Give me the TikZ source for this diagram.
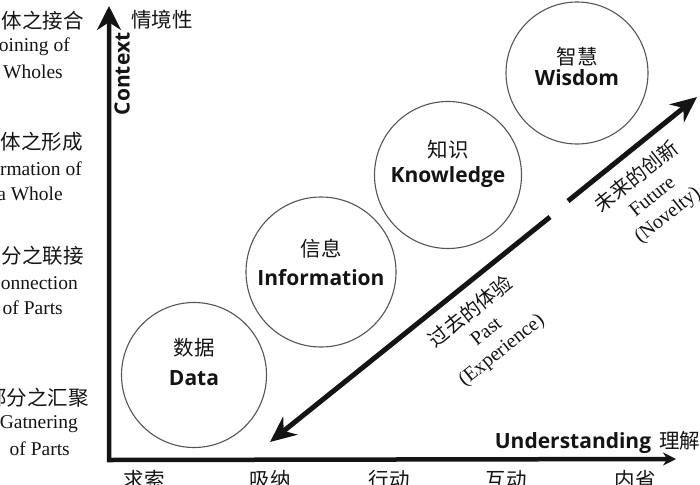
\documentclass[tikz,border=0pt]{standalone}
\usepackage{fontspec}
\setmainfont{Liberation Serif}
\newfontfamily\cjk{Noto Sans CJK SC}
\newfontfamily\headsans{Open Sans}
\usetikzlibrary{arrows.meta}
\definecolor{ColCircle}{RGB}{85,85,85}
\definecolor{ColInk}{RGB}{20,20,20}
\newcommand{\cjkfont}{\cjk\fontsize{20.5}{27}\selectfont}
\tikzstyle{LevelCircle}=[circle,draw=ColCircle,line width=1.1pt,inner sep=0pt]
\tikzstyle{LevelText}=[align=center,inner sep=0pt,text=ColInk,
font=\fontsize{21}{27}\selectfont]
\tikzstyle{SideText}=[anchor=east,inner sep=0pt,text=ColInk,
font=\fontsize{19.5}{22}\selectfont]
\tikzstyle{SideCn}=[SideText,font=\cjkfont]
\tikzstyle{StepText}=[anchor=north,inner sep=0pt,text=ColInk,font=\cjkfont]
\tikzstyle{AxisText}=[inner sep=0pt,text=ColInk,font=\headsans\bfseries\fontsize{21}{24}\selectfont]
\tikzstyle{TimeText}=[align=center,inner sep=0pt,text=ColInk,rotate=38.7,
font=\fontsize{20}{24}\selectfont]
\tikzstyle{AxisLine}=[ColInk,line width=4.5pt,line join=miter,
{Stealth[length=24pt,width=24pt]}-{Stealth[length=13pt,width=13pt]}]
\tikzstyle{FlowArrow}=[ColInk,line width=5pt,-{Stealth[length=26pt,width=23pt]}]

\begin{document}
\begin{tikzpicture}[x=1pt,y=-1pt]
        \useasboundingbox(0,0)rectangle(700,484);
        \clip(0,0)rectangle(700,484);
        % axes
        \coordinate(origin)at(109,460);
        \coordinate(ytip)at(109,6);
        \coordinate(xtip)at(676,459);
        \draw[AxisLine](ytip)--(origin)--(xtip);
        \node[AxisText,rotate=90](ctxText)at(122,74){Context};
        \node[SideCn,anchor=center](ctxCn)at(162,20){情境性};
        \node[AxisText](undText)at(573,443){Understanding};
        \node[SideCn,anchor=west](undCn)at(659,441){理解};
        % left scale
        \node[SideCn](joinCn)at(84,21){体之接合};
        \node[SideText](joinA)at(70,47){oining of};
        \node[SideText](joinB)at(63,72){Wholes};
        \node[SideCn](formCn)at(83,142){体之形成};
        \node[SideText](formA)at(82,169){rmation of};
        \node[SideText](formB)at(63,194){a Whole};
        \node[SideCn](connCn)at(84,256){分之联接};
        \node[SideText](connA)at(78,283){onnection};
        \node[SideText](connB)at(63,308){of Parts};
        \node[SideCn](gathCn)at(89,398){部分之汇聚};
        \node[SideText](gathA)at(78,424){Gatnering};
        \node[SideText](gathB)at(70,449){of Parts};
        % bottom scale
        \node[StepText](seek)at(144,470){求索};
        \node[StepText](absorb)at(270,470){吸纳};
        \node[StepText](act)at(389,470){行动};
        \node[StepText](interact)at(506,470){互动};
        \node[StepText](reflect)at(635,470){内省};
        % levels
        \node[LevelCircle,minimum size=145pt](data)at(194,375){};
        \node[LevelText](dataText)at([yshift=13pt]data.center){{\cjkfont 数据}\\[3pt]{\headsans\bfseries Data}};
        \node[LevelCircle,minimum size=150pt](info)at(321,272){};
        \node[LevelText](infoText)at([yshift=10pt]info.center){{\cjkfont 信息}\\[2pt]{\headsans\bfseries Information}};
        \node[LevelCircle,minimum size=147pt](know)at(448,175){};
        \node[LevelText](knowText)at([yshift=11pt]know.center){{\cjkfont 知识}\\[-2pt]{\headsans\bfseries Knowledge}};
        \node[LevelCircle,minimum size=142pt](wisd)at(577,73){};
        \node[LevelText](wisdText)at([yshift=7pt]wisd.center){{\cjkfont 智慧}\\[-6pt]{\headsans\bfseries Wisdom}};
        % time arrow
        \coordinate(pastEnd)at(550,217);
        \coordinate(pastTip)at(270,442);
        \coordinate(futStart)at(568,201);
        \coordinate(futTip)at(697,97);
        \draw[FlowArrow](pastEnd)--(pastTip);
        \draw[FlowArrow](futStart)--(futTip);
        \node[TimeText](pastText)at(486,331){{\cjk 过去的体验}\\Past\\(Experience)};
        \node[TimeText](futText)at(652,196){{\cjk 未来的创新}\\Future\\(Novelty)};
    \end{tikzpicture}
\end{document}
